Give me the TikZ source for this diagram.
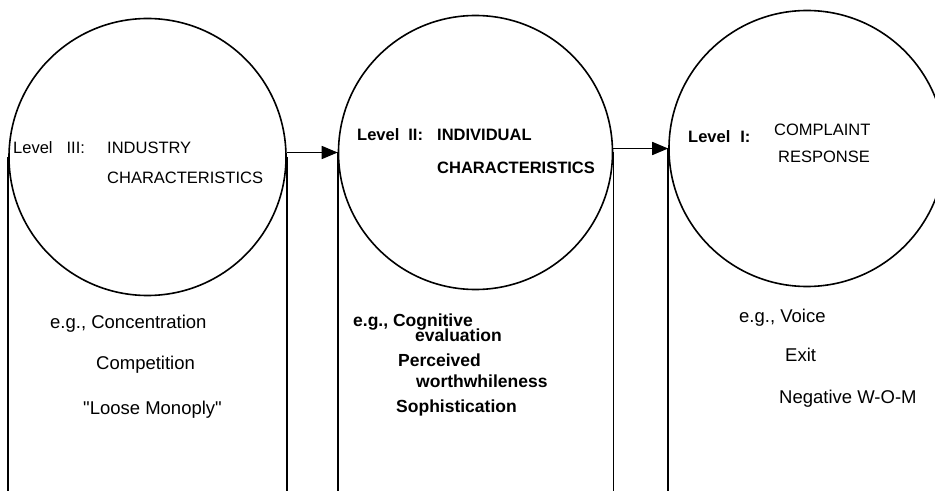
\documentclass[tikz,border=0pt]{standalone}
\usepackage{fontspec}
\setmainfont{Liberation Sans}
\newfontfamily\rawsans{Liberation Sans}[Ligatures=TeXOff]
\usetikzlibrary{arrows.meta}
\tikzset{
  ring/.style={circle, draw, line width=1.6pt, inner sep=0pt},
  wire/.style={line width=1.6pt},
  flow/.style={line width=1.6pt, -{Triangle[length=16pt,width=13pt]}},
  head/.style={inner sep=0pt, anchor=base west, font=\fontsize{16.5}{18}\selectfont},
  headb/.style={head, font=\fontsize{16.5}{18}\selectfont\bfseries},
  item/.style={inner sep=0pt, anchor=base west, font=\fontsize{18.5}{20}\selectfont},
  itemb/.style={item, font=\fontsize{17.5}{20}\selectfont\bfseries}
}
\begin{document}
\begin{tikzpicture}[x=1pt,y=1pt]
\useasboundingbox (0,0) rectangle (935,491);
\clip (0,0) rectangle (935,491);
\fill[white] (0,0) rectangle (935,491);
\coordinate (bot) at (0,0);
% circles
\node[ring, minimum size=277pt] (c1) at (147.5,334) {};
\node[ring, minimum size=274pt] (c2) at (475.5,338.5) {};
\node[ring, minimum size=276pt] (c3) at (807,342.5) {};
% vertical lines
\draw[wire] (c1.west) -- (c1.west |- bot);
\draw[wire] (c1.east) -- (c1.east |- bot);
\draw[wire] (c2.west) -- (c2.west |- bot);
\draw[wire] (c2.east) -- (c2.east |- bot);
\draw[wire] (c3.west) -- (c3.west |- bot);
% arrows
\draw[flow] (c1.east |- c2.west) -- (c2.west);
\draw[flow] (c2.east |- c3.west) -- (c3.west);
% circle 1 texts
\node[head] (t1a) at (13,337) {Level\hspace{14pt}III:};
\node[head] (t1b) at (107,337) {INDUSTRY};
\node[head] (t1c) at (107,307) {CHARACTERISTICS};
% circle 2 texts
\node[headb] (t2a) at (357,350) {Level\hspace{9pt}II:};
\node[headb] (t2b) at (437,350) {INDIVIDUAL};
\node[headb] (t2c) at (437,317) {CHARACTERISTICS};
% circle 3 texts
\node[headb] (t3a) at (688,348) {Level\hspace{10pt}I:};
\node[head] (t3b) at (774,355) {COMPLAINT};
\node[head] (t3c) at (778,328) {RESPONSE};
% lower texts
\node[item] (l1a) at (50,163) {e.g., Concentration};
\node[item] (l1b) at (96,122) {Competition};
\node[item] (l1c) at (83,77) {\rawsans "Loose Monoply"};
\node[itemb] (l2a) at (353,165) {e.g., Cognitive};
\node[itemb] (l2b) at (415,150) {evaluation};
\node[itemb] (l2c) at (398,125) {Perceived};
\node[itemb] (l2d) at (416,104) {worthwhileness};
\node[itemb] (l2e) at (396,79) {Sophistication};
\node[item] (l3a) at (739,169) {e.g., Voice};
\node[item] (l3b) at (785,130) {Exit};
\node[item] (l3c) at (779,88) {Negative W-O-M};
\end{tikzpicture}
\end{document}
